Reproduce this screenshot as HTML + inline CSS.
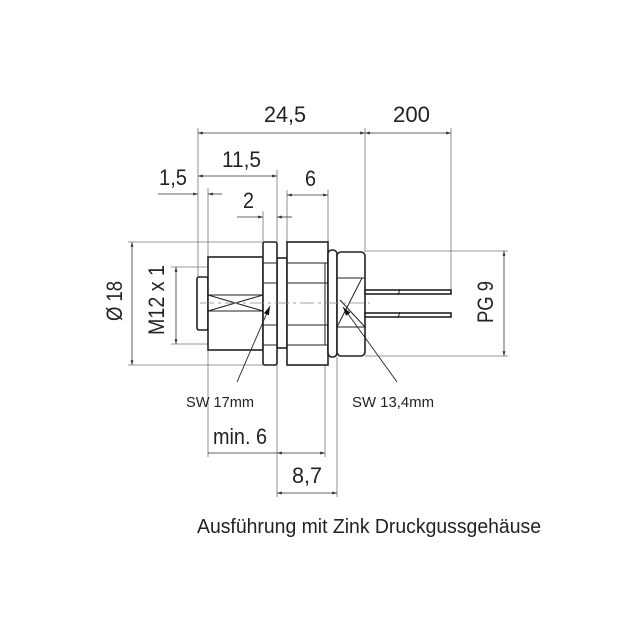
<!DOCTYPE html>
<html><head><meta charset="utf-8"><style>
html,body{margin:0;padding:0;background:#fff;width:641px;height:643px;overflow:hidden}
text{font-family:"Liberation Sans",sans-serif;fill:#222}
</style></head><body>
<svg width="641" height="643" viewBox="0 0 641 643" xmlns="http://www.w3.org/2000/svg">
<defs>
<marker id="a" viewBox="0 0 10 6" refX="10" refY="3" markerWidth="6" markerHeight="4" orient="auto-start-reverse"><path d="M0,0L10,3L0,6z" fill="#333"/></marker>
<marker id="b" viewBox="0 0 10 6" refX="10" refY="3" markerWidth="10" markerHeight="6" orient="auto"><path d="M0,0L10,3L0,6z" fill="#111"/></marker>
</defs>
<g stroke="#777" stroke-width="0.8" fill="none">
<line x1="198" y1="128" x2="198" y2="278"/>
<line x1="365" y1="128" x2="365" y2="252"/>
<line x1="451" y1="128" x2="451" y2="292"/>
<line x1="277" y1="170" x2="277" y2="497"/>
<line x1="208" y1="188" x2="208" y2="257"/>
<line x1="263" y1="211" x2="263" y2="242"/>
<line x1="287" y1="190" x2="287" y2="242"/>
<line x1="328" y1="190" x2="328" y2="242"/>
<line x1="325" y1="345" x2="325" y2="457"/>
<line x1="337" y1="357" x2="337" y2="497"/>
<line x1="128" y1="242" x2="270" y2="242"/>
<line x1="128" y1="365" x2="270" y2="365"/>
<line x1="171" y1="267" x2="208" y2="267"/>
<line x1="171" y1="344" x2="208" y2="344"/>
<line x1="365" y1="251" x2="508" y2="251"/>
<line x1="365" y1="356" x2="508" y2="356"/>
<line x1="208" y1="350" x2="208" y2="457"/>
</g>
<g stroke="#333" stroke-width="0.8" fill="none">
<line x1="198" y1="133" x2="365" y2="133" marker-start="url(#a)" marker-end="url(#a)"/>
<line x1="365" y1="133" x2="451" y2="133" marker-start="url(#a)" marker-end="url(#a)"/>
<line x1="198" y1="176" x2="277" y2="176" marker-start="url(#a)" marker-end="url(#a)"/>
<line x1="158" y1="194" x2="198" y2="194" marker-end="url(#a)"/>
<line x1="208" y1="194" x2="222" y2="194" marker-start="url(#a)"/>
<line x1="237" y1="217" x2="263" y2="217" marker-end="url(#a)"/>
<line x1="277" y1="217" x2="292" y2="217" marker-start="url(#a)"/>
<line x1="287" y1="195" x2="328" y2="195" marker-start="url(#a)" marker-end="url(#a)"/>
<line x1="132" y1="242" x2="132" y2="365" marker-start="url(#a)" marker-end="url(#a)"/>
<line x1="176" y1="267" x2="176" y2="344" marker-start="url(#a)" marker-end="url(#a)"/>
<line x1="504" y1="251" x2="504" y2="356" marker-start="url(#a)" marker-end="url(#a)"/>
<line x1="208" y1="453" x2="277" y2="453"/>
<line x1="277" y1="453" x2="325" y2="453" marker-start="url(#a)" marker-end="url(#a)"/>
<line x1="277" y1="493" x2="337" y2="493" marker-start="url(#a)" marker-end="url(#a)"/>
</g>
<g stroke="#222" stroke-width="1.6" fill="#fff">
<rect x="197" y="277" width="11" height="53" rx="2"/>
<rect x="208" y="257" width="55" height="93"/>
<rect x="277" y="258" width="10" height="90"/>
<rect x="263" y="242" width="14" height="123" rx="2"/>
<rect x="287" y="242" width="41" height="123"/>
<rect x="328" y="250" width="9" height="107" rx="4"/>
<rect x="337" y="252" width="28" height="104" rx="4"/>
<rect x="365" y="290" width="86" height="4"/>
<rect x="365" y="313" width="86" height="4"/>
</g>
<g stroke="#222" stroke-width="1" fill="none">
<line x1="208" y1="295" x2="263" y2="295"/><line x1="208" y1="311" x2="263" y2="311"/>
<line x1="208" y1="295" x2="263" y2="311"/><line x1="208" y1="311" x2="263" y2="295"/>
<line x1="263" y1="263" x2="277" y2="263"/><line x1="263" y1="283" x2="277" y2="283"/>
<line x1="263" y1="325" x2="277" y2="325"/><line x1="263" y1="345" x2="277" y2="345"/>
<line x1="287" y1="263" x2="328" y2="263"/><line x1="287" y1="283" x2="328" y2="283"/>
<line x1="287" y1="325" x2="328" y2="325"/><line x1="287" y1="345" x2="328" y2="345"/>
<line x1="325" y1="263" x2="325" y2="345"/>
<line x1="337" y1="278" x2="365" y2="278"/><line x1="337" y1="327" x2="365" y2="327"/>
<line x1="337" y1="327" x2="362" y2="278"/><line x1="340" y1="300" x2="365" y2="327"/>
<line x1="400" y1="289" x2="398" y2="295" /><line x1="400" y1="312" x2="398" y2="318"/>
</g>
<line x1="200" y1="303" x2="370" y2="303" stroke="#888" stroke-width="0.7" stroke-dasharray="14,4,3,4"/>
<g stroke="#222" stroke-width="0.9" fill="none">
<line x1="237" y1="382" x2="270" y2="306" marker-end="url(#b)"/>
<line x1="397" y1="382" x2="343" y2="307" marker-end="url(#b)"/>
</g>
<g font-size="22">
<text x="264" y="122" textLength="42" lengthAdjust="spacingAndGlyphs">24,5</text>
<text x="393" y="122" textLength="37" lengthAdjust="spacingAndGlyphs">200</text>
<text x="222" y="167" textLength="39" lengthAdjust="spacingAndGlyphs">11,5</text>
<text x="159" y="185" textLength="28" lengthAdjust="spacingAndGlyphs">1,5</text>
<text x="243" y="208" textLength="11" lengthAdjust="spacingAndGlyphs">2</text>
<text x="305" y="186" textLength="11" lengthAdjust="spacingAndGlyphs">6</text>
<text x="213" y="444" textLength="54" lengthAdjust="spacingAndGlyphs">min. 6</text>
<text x="292" y="483" textLength="30" lengthAdjust="spacingAndGlyphs">8,7</text>
<text transform="translate(122,321) rotate(-90)" textLength="40" lengthAdjust="spacingAndGlyphs">Ø 18</text>
<text transform="translate(164,335) rotate(-90)" textLength="70" lengthAdjust="spacingAndGlyphs">M12 x 1</text>
<text transform="translate(493,323) rotate(-90)" textLength="42" lengthAdjust="spacingAndGlyphs">PG 9</text>
</g>
<g font-size="15">
<text x="186" y="407" textLength="68" lengthAdjust="spacingAndGlyphs">SW 17mm</text>
<text x="352" y="407" textLength="82" lengthAdjust="spacingAndGlyphs">SW 13,4mm</text>
</g>
<text x="197" y="533" font-size="20" textLength="344" lengthAdjust="spacingAndGlyphs">Ausführung mit Zink Druckgussgehäuse</text>
</svg>
</body></html>
